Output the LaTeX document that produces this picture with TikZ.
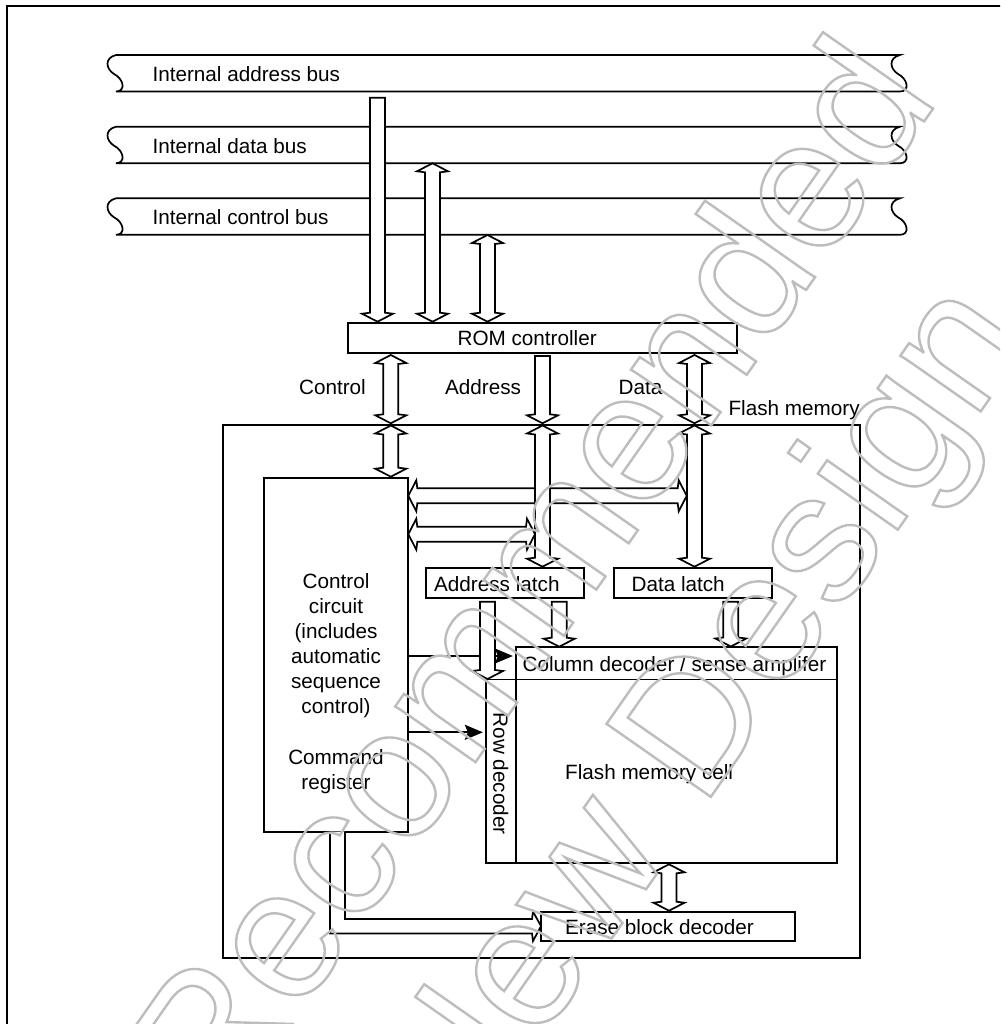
\documentclass[tikz,border=0pt]{standalone}
\usepackage{fontspec}
\setmainfont{Liberation Sans}
\usetikzlibrary{arrows.meta}
\newcommand\outlinetext[1]{\special{pdf:literal direct 1 Tr 2.4 w}#1\special{pdf:literal direct 0 Tr 1 w}}
% hollow double vertical arrow: x, top tip, bottom tip
\newcommand\vdbl[3]{\draw[hol] (#1,#2) -- ++(15.5,8) -- ++(-8,1) -- (#1+7.5,#3-9) -- ++(8,1) -- (#1,#3) -- ++(-15.5,-8) -- ++(8,-1) -- (#1-7.5,#2+9) -- ++(-8,-1) -- cycle;}
% hollow single downward arrow: x, flat top, bottom tip
\newcommand\vdown[3]{\draw[hol] (#1-7.5,#2) -- (#1+7.5,#2) -- (#1+7.5,#3-9) -- ++(8,1) -- (#1,#3) -- ++(-15.5,-8) -- ++(8,-1) -- cycle;}
% hollow double horizontal arrow: left tip, right tip, y
\newcommand\hdbl[3]{\draw[hol] (#1,#3) -- ++(8,-15.5) -- ++(1,8) -- (#2-9,#3-7.5) -- ++(1,-8) -- (#2,#3) -- ++(-8,15.5) -- ++(-1,-8) -- (#1+9,#3+7.5) -- ++(-1,8) -- cycle;}
% bus: top y, label name, label text
\newcommand\bus[3]{%
  \draw (116,#1) -- (900,#1) .. controls (888,#1+3) and (890,#1+14) .. (898,#1+19) .. controls (908,#1+24) and (910,#1+36.5) .. (900,#1+36.5) -- (116,#1+36.5) .. controls (126,#1+36.5) and (124,#1+24) .. (114,#1+19) .. controls (106,#1+14) and (104,#1+3) .. (116,#1) -- cycle;
  \node[lbl,anchor=base west] (#2) at (151.7,#1+26.5) {#3};}
\begin{document}
\begin{tikzpicture}[x=1pt,y=-1pt,line width=1.7pt,line join=miter,
  font=\fontsize{20.7}{25}\selectfont,
  hol/.style={draw,fill=white},
  box/.style 2 args={draw,inner sep=0,minimum width=#1,minimum height=#2},
  lbl/.style={inner sep=0},
  thinarr/.style={-{Stealth[length=18pt,width=15pt,inset=3pt]},shorten >=2pt},
  wm/.style={rotate=55,inner sep=0,text=black!26,font=\fontsize{185}{185}\selectfont}]
\useasboundingbox (0,0) rectangle (1000,1024);
\clip (0,0) rectangle (1000,1024);
\fill[white] (0,0) rectangle (1000,1024);
\draw (7,6) rectangle (1020,1040);

% buses
\bus{55}{abus}{Internal address bus}
\bus{126.7}{dbus}{Internal data bus}
\bus{198.3}{cbus}{Internal control bus}

% bus to ROM controller arrows
\vdown{377.5}{97.7}{321.7}
\vdbl{432.5}{163.3}{321.7}
\vdbl{487.5}{235}{321.7}

% ROM controller
\node[box={388.4pt}{29.4pt}] (rom) at (542.5,338) {};
\node[lbl,anchor=base west] (romt) at (456.7,345) {ROM controller};

% Flash memory module
\node[box={636.7pt}{532.7pt}] (flash) at (541.65,691.35) {};
\node[lbl,anchor=base west] (flasht) at (727.7,415) {Flash memory};

% ROM controller to flash
\vdbl{390.8}{355}{423.3}
\vdown{542.5}{356}{423.3}
\vdbl{694.5}{355}{423.3}
\node[lbl,anchor=base east] (ctrlt) at (366.7,394) {Control};
\node[lbl,anchor=base west] (addrt) at (444.3,394) {Address};
\node[lbl,anchor=base west] (datat) at (617.7,394) {Data};

% inner blocks
\node[box={143.7pt}{353.4pt}] (cc) at (335.85,655) {};
\node[box={158pt}{29.4pt}] (alatch) at (505,583) {};
\node[box={158.3pt}{29.4pt}] (dlatch) at (693.15,583) {};
\node[box={321pt}{32.2pt}] (col) at (676.2,663.4) {};
\node[box={30pt}{183.2pt}] (row) at (500.7,771.1) {};
\node[box={321pt}{183.2pt}] (cell) at (676.2,771.1) {};
\node[box={254pt}{29.3pt}] (erase) at (668,926.35) {};

% internal arrows
\vdbl{390.8}{425.5}{476.7}
\hdbl{408.3}{686.7}{495.8}
\hdbl{408.3}{535}{534.2}
\vdbl{542.5}{425.5}{566.7}
\vdbl{694.5}{425.5}{566.7}

\coordinate (ya) at (0,656);
\coordinate (yb) at (0,732.3);
\draw[thinarr] (cc.east |- ya) -- (col.west |- ya);
\draw[thinarr] (cc.east |- yb) -- (row.west |- yb);

\vdown{487.5}{601.7}{679}
\vdown{559.2}{601.7}{646.7}
\vdown{730.8}{601.7}{646.5}
\vdbl{669}{864.3}{910.7}
\draw[hol] (330,831.7) -- (330,933.5) -- (532,933.5) -- (533,941) -- (541,926.2) -- (533,911.5) -- (532,919) -- (345,919) -- (345,831.7);

% texts
\node[lbl,anchor=base] (cc1) at (336,588.3) {Control};
\node[lbl,anchor=base] (cc2) at (336,613.3) {circuit};
\node[lbl,anchor=base] (cc3) at (336,638.3) {(includes};
\node[lbl,anchor=base] (cc4) at (336,663.3) {automatic};
\node[lbl,anchor=base] (cc5) at (336,688.3) {sequence};
\node[lbl,anchor=base] (cc6) at (336,713.3) {control)};
\node[lbl,anchor=base] (cc7) at (336,764) {Command};
\node[lbl,anchor=base] (cc8) at (336,789) {register};
\node[lbl,anchor=base west] (alatcht) at (433.3,591.7) {Address latch};
\node[lbl,anchor=base west] (dlatcht) at (630.7,591.7) {Data latch};
\node[lbl,anchor=base west] (colt) at (521.7,671) {Column decoder / sense amplifer};
\node[lbl,rotate=-90,anchor=base west] (rowt) at (493.3,711.7) {Row decoder};
\node[lbl,anchor=base west] (cellt) at (564.3,779) {Flash memory cell};
\node[lbl,anchor=base west] (eraset) at (564.3,934) {Erase block decoder};

% watermark
\node[wm,anchor=base west] (wm1) at (220,1127) {\outlinetext{Recommended}};
\node[wm,anchor=base west] (wm2) at (460,1155) {\outlinetext{New Design}};
\end{tikzpicture}
\end{document}
